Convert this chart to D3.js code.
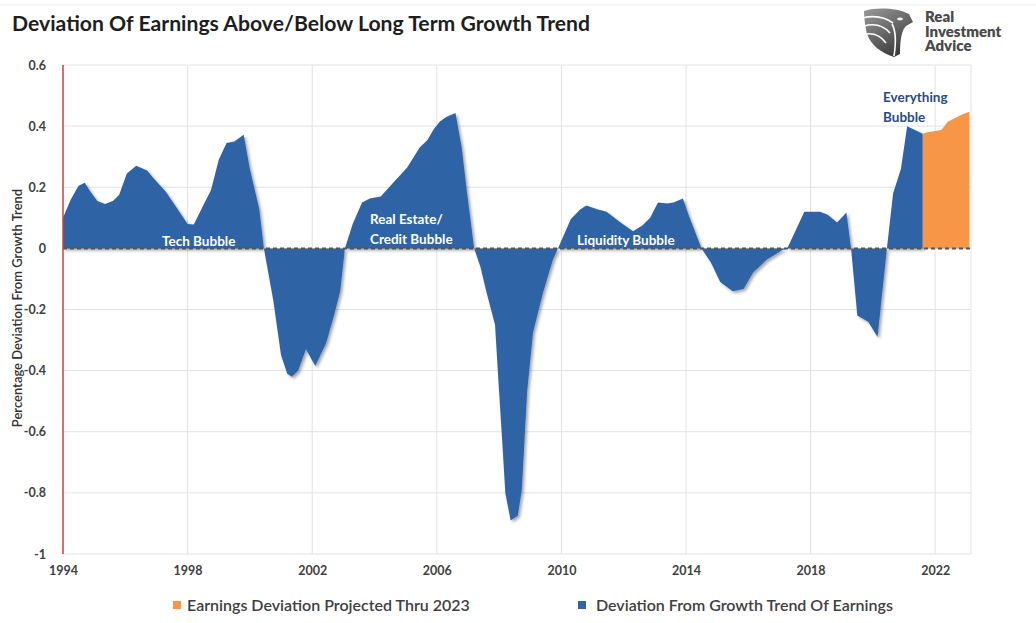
<!DOCTYPE html>
<html lang="en">

<head>
    <meta charset="UTF-8">
    <title>Deviation Of Earnings Above/Below Long Term Growth Trend</title>
    <script src="https://cdn.jsdelivr.net/npm/d3@7/dist/d3.min.js"></script>
    <style>
        body { margin: 0; background: #fff; }
        svg { font-family: Lato, "Open Sans", sans-serif; }
    </style>
</head>

<body>
    <svg id="chart" width="1036" height="623"></svg>
    <script>
        // historical deviation (decimal years)
        const histDates = [1994.0, 1994.25, 1994.5, 1994.7, 1994.85, 1995.1, 1995.35, 1995.6, 1995.8, 1996.05,
            1996.35, 1996.7, 1996.9, 1997.3, 1997.6, 1998.0, 1998.2, 1998.5, 1998.75, 1999.0,
            1999.25, 1999.5, 1999.8, 2000.0, 2000.3, 2000.45, 2000.75, 2001.0, 2001.2, 2001.35,
            2001.55, 2001.8, 2002.1, 2002.45, 2002.7, 2002.9, 2003.05, 2003.3, 2003.6, 2003.85,
            2004.2, 2004.6, 2005.05, 2005.45, 2005.7, 2005.9, 2006.1, 2006.3, 2006.6, 2006.8,
            2006.95, 2007.2, 2007.4, 2007.6, 2007.87, 2007.97, 2008.1, 2008.2, 2008.37, 2008.6,
            2008.73, 2008.9, 2009.09, 2009.41, 2009.73, 2009.89, 2010.3, 2010.6, 2010.8, 2011.15,
            2011.45, 2011.9, 2012.3, 2012.6, 2012.85, 2013.1, 2013.4, 2013.6, 2013.9, 2014.1,
            2014.5, 2014.8, 2015.1, 2015.5, 2015.85, 2016.15, 2016.6, 2017.1, 2017.25, 2017.8,
            2018.3, 2018.55, 2018.85, 2019.15, 2019.3, 2019.5, 2019.85, 2020.15, 2020.3, 2020.45,
            2020.65, 2020.9, 2021.1, 2021.4, 2021.6];
        const histValues = [0.10, 0.16, 0.205, 0.215, 0.19, 0.155, 0.145, 0.155, 0.175, 0.245,
            0.27, 0.255, 0.23, 0.185, 0.14, 0.08, 0.078, 0.14, 0.19, 0.29,
            0.345, 0.35, 0.372, 0.26, 0.13, 0.0, -0.17, -0.35, -0.41, -0.42,
            -0.40, -0.33, -0.385, -0.31, -0.22, -0.14, 0.0, 0.08, 0.15, 0.163,
            0.17, 0.215, 0.265, 0.33, 0.355, 0.39, 0.415, 0.43, 0.443, 0.33,
            0.20, 0.0, -0.06, -0.145, -0.25, -0.42, -0.63, -0.80, -0.89, -0.875,
            -0.79, -0.47, -0.275, -0.145, -0.036, 0.0, 0.095, 0.127, 0.14, 0.128,
            0.12, 0.085, 0.056, 0.075, 0.10, 0.15, 0.147, 0.15, 0.163, 0.105,
            0.0, -0.046, -0.11, -0.14, -0.133, -0.08, -0.036, -0.005, 0.0, 0.12,
            0.12, 0.11, 0.085, 0.117, 0.0, -0.22, -0.24, -0.29, -0.145, 0.0,
            0.18, 0.26, 0.40, 0.385, 0.375];

        // projection thru 2023
        const projDates = [2021.6, 2021.75, 2021.95, 2022.2, 2022.4, 2022.7, 2022.9, 2023.1];
        const projValues = [0.375, 0.38, 0.383, 0.387, 0.414, 0.43, 0.44, 0.447];

        const yearTicks = [1994, 1998, 2002, 2006, 2010, 2014, 2018, 2022];
        const valueTicks = [-1, -0.8, -0.6, -0.4, -0.2, 0, 0.2, 0.4, 0.6];

        const seriesNames = ["Earnings Deviation Projected Thru 2023", "Deviation From Growth Trend Of Earnings"];

        const blue = "#2f64a6", orange = "#f79646";

        const svg = d3.select("#chart");
        const x = d3.scaleLinear().domain([1994, 2023.15]).range([63, 971]);
        const y = d3.scaleLinear().domain([-1, 0.6]).range([554, 65]);

        const defs = svg.append("defs");
        defs.append("filter").attr("id", "shadow")
            .attr("x", "-5%").attr("y", "-5%").attr("width", "110%").attr("height", "110%")
            .append("feDropShadow")
            .attr("dx", 2).attr("dy", 2).attr("stdDeviation", 1.5)
            .attr("flood-color", "#000").attr("flood-opacity", 0.35);
        const grad = defs.append("linearGradient").attr("id", "logoGrad")
            .attr("x1", "0").attr("y1", "0").attr("x2", "0.6").attr("y2", "1");
        grad.append("stop").attr("offset", "0").attr("stop-color", "#9a9a9a");
        grad.append("stop").attr("offset", "1").attr("stop-color", "#3c3c3c");

        // faint frame line at top
        svg.append("line").attr("x1", 0).attr("x2", 1036).attr("y1", 5).attr("y2", 5)
            .attr("stroke", "#ececec");

        // title
        svg.append("text").attr("x", 12).attr("y", 31)
            .attr("font-size", 20).attr("font-weight", 700).attr("fill", "#1e1e1e")
            .attr("textLength", 578).attr("lengthAdjust", "spacingAndGlyphs")
            .text("Deviation Of Earnings Above/Below Long Term Growth Trend");

        // logo
        const logo = svg.append("g").attr("transform", "translate(863,7)");
        logo.append("path")
            .attr("d", "M1,4 C14,0 34,1 46,7 L50,15 L43,19 C39,23 37,31 37,47 L31,50 C18,46 8,38 4,27 C2,19 1,11 1,4 Z")
            .attr("fill", "url(#logoGrad)");
        logo.selectAll("path.cut")
            .data(["M-1,11 C12,8 22,10 30,16", "M1,19 C12,16 21,19 27,26", "M3,27 C11,26 18,29 23,36", "M29,17 C33,24 33,36 31,49"])
            .enter().append("path").attr("class", "cut")
            .attr("d", d => d).attr("fill", "none").attr("stroke", "#fff").attr("stroke-width", 1.6);
        logo.append("ellipse").attr("cx", 37).attr("cy", 12).attr("rx", 3).attr("ry", 1.4).attr("fill", "#eee");
        svg.append("g").selectAll("text")
            .data(["Real", "Investment", "Advice"])
            .enter().append("text")
            .attr("x", 925).attr("y", (d, i) => 22 + i * 14.5)
            .attr("font-size", 15).attr("font-weight", 800).attr("fill", "#4a4a4a")
            .text(d => d);

        // grid
        const grid = svg.append("g").attr("stroke", "#e2e2e2").attr("stroke-width", 1);
        grid.selectAll("line.h").data(valueTicks).enter().append("line")
            .attr("x1", x(1994)).attr("x2", x(2023.15))
            .attr("y1", d => y(d)).attr("y2", d => y(d));
        grid.selectAll("line.v").data(yearTicks.slice(1).concat([2023.15])).enter().append("line")
            .attr("x1", d => x(d)).attr("x2", d => x(d))
            .attr("y1", y(0.6)).attr("y2", y(-1));

        // areas
        const area = d3.area()
            .x(d => x(d[0]))
            .y0(y(0))
            .y1(d => y(d[1]));

        svg.append("path")
            .datum(histDates.map((d, i) => [d, histValues[i]]))
            .attr("d", area)
            .attr("fill", blue)
            .attr("filter", "url(#shadow)");

        svg.append("path")
            .datum(projDates.map((d, i) => [d, projValues[i]]))
            .attr("d", area)
            .attr("fill", orange);

        // zero line
        svg.append("line")
            .attr("x1", x(1994)).attr("x2", x(2023.15) + 2)
            .attr("y1", y(0)).attr("y2", y(0))
            .attr("stroke", "#555").attr("stroke-width", 2)
            .attr("stroke-dasharray", "4,3");

        // red vertical axis line
        svg.append("line")
            .attr("x1", x(1994)).attr("x2", x(1994))
            .attr("y1", y(0.6)).attr("y2", y(-1))
            .attr("stroke", "#d23b3b").attr("stroke-width", 1.5);

        // y axis
        const yAxis = svg.append("g")
            .attr("transform", "translate(49,0)")
            .call(d3.axisLeft(y).tickValues(valueTicks).tickSize(0)
                .tickFormat(d => String(+d.toFixed(1))));
        yAxis.select(".domain").remove();
        yAxis.selectAll("text")
            .attr("font-family", "Lato, sans-serif")
            .attr("font-size", 12.5).attr("font-weight", 700).attr("fill", "#404040");

        // x axis
        const xAxis = svg.append("g")
            .attr("transform", "translate(0,563)")
            .call(d3.axisBottom(x).tickValues(yearTicks).tickSize(0).tickFormat(d3.format("d")));
        xAxis.select(".domain").remove();
        xAxis.selectAll("text")
            .attr("font-family", "Lato, sans-serif")
            .attr("font-size", 12.5).attr("font-weight", 700).attr("fill", "#404040");

        // y axis title
        svg.append("text")
            .attr("transform", "translate(22,308) rotate(-90)")
            .attr("text-anchor", "middle")
            .attr("font-size", 13).attr("font-weight", 600).attr("fill", "#333")
            .text("Percentage Deviation From Growth Trend");

        // annotations
        const notes = [
            { t: "Tech Bubble", x: 162, y: 246, c: "#fff" },
            { t: "Real Estate/", x: 370, y: 224, c: "#fff" },
            { t: "Credit Bubble", x: 370, y: 244, c: "#fff" },
            { t: "Liquidity Bubble", x: 577, y: 245, c: "#fff" },
            { t: "Everything", x: 883, y: 102, c: "#2c4a82" },
            { t: "Bubble", x: 883, y: 122, c: "#2c4a82" }
        ];
        svg.append("g").selectAll("text").data(notes).enter().append("text")
            .attr("x", d => d.x).attr("y", d => d.y)
            .attr("font-size", 13.5).attr("font-weight", 700)
            .attr("fill", d => d.c)
            .text(d => d.t);

        // legend
        const legend = svg.append("g").selectAll("g")
            .data(seriesNames).enter().append("g")
            .attr("transform", (d, i) => `translate(${[173, 578][i]},0)`);
        legend.append("rect")
            .attr("x", 0).attr("y", 601).attr("width", 8).attr("height", 8)
            .attr("fill", (d, i) => [orange, blue][i]);
        legend.append("text")
            .attr("x", (d, i) => [14, 18][i]).attr("y", 611)
            .attr("font-size", 16).attr("font-weight", 600).attr("fill", "#404040")
            .text(d => d);
    </script>
</body>

</html>
